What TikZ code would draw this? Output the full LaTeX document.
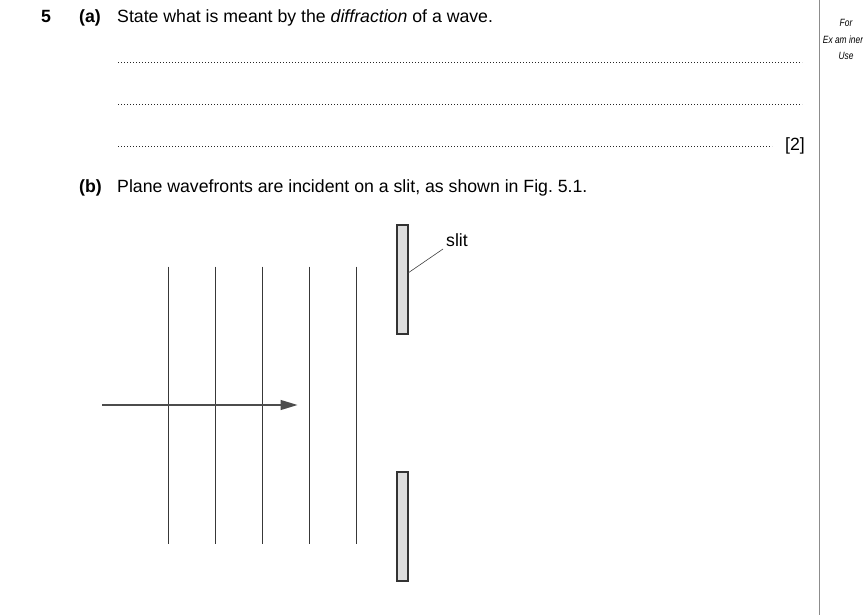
\documentclass[tikz,border=0pt]{standalone}
\usepackage{fontspec}
\setmainfont{Liberation Sans}
\usetikzlibrary{arrows.meta}
\begin{document}
\begin{tikzpicture}[x=1pt,y=-1pt,
  txt/.style={inner sep=0pt,anchor=base west,font=\fontsize{17.7}{20}\selectfont},
  btxt/.style={inner sep=0pt,anchor=base west,font=\fontsize{17.7}{20}\selectfont\bfseries},
  dots/.style={line width=1.1pt,dash pattern=on 1.1pt off 1.9pt,black!85},
  wave/.style={line width=1.6pt,black!78},
  barrier/.style={draw=black!80,line width=1.1pt,fill=black!13,minimum width=11pt,minimum height=109pt,inner sep=0pt,outer sep=0pt},
  exam/.style={inner sep=0pt,font=\fontsize{10.5}{11}\selectfont\itshape}]
\useasboundingbox (0,0) rectangle (863,615);
% header
\node[btxt] (q5) at (41,23) {5};
\node[btxt] (qa) at (79,23) {(a)};
\node[txt] (ta) at (117,23) {State what is meant by the \textit{diffraction} of a wave.};
\coordinate (d1a) at (118,62.5); \coordinate (d1b) at (802,62.5);
\coordinate (d2a) at (118,104.5); \coordinate (d2b) at (802,104.5);
\coordinate (d3a) at (118,146.5); \coordinate (d3b) at (772,146.5);
\draw[dots] (d1a) -- (d1b);
\draw[dots] (d2a) -- (d2b);
\draw[dots] (d3a) -- (d3b);
\node[txt] (m2) at (785,151) {[2]};
% examiner column
\coordinate (ea) at (819,0); \coordinate (eb) at (819,615);
\draw[black!45,line width=0.8pt] (ea) -- (eb);
\node[exam] (e1) at (846,23) {\scalebox{0.8}[1]{For}};
\node[exam] (e2) at (843,40) {\scalebox{0.8}[1]{Ex am iner}};
\node[exam] (e3) at (846,56) {\scalebox{0.8}[1]{Use}};
% part b
\node[btxt] (qb) at (79,193) {(b)};
\node[txt] (tb) at (117,193) {Plane wavefronts are incident on a slit, as shown in Fig.\ 5.1.};
% wavefronts
\foreach \i/\x in {1/168.5,2/215.5,3/262.5,4/309.5,5/356.5}{
  \coordinate (w\i t) at (\x,266.5);
  \coordinate (w\i b) at (\x,544);
  \draw[wave] (w\i t) -- (w\i b);
}
% arrow
\coordinate (ar1) at (102,405); \coordinate (ar2) at (297.5,405);
\draw[line width=1.3pt,black!70,-{Triangle[length=17pt,width=10pt]}] (ar1) -- (ar2);
% barriers
\node[barrier] (up) at (402.5,279.5) {};
\node[barrier] (low) at (402.5,526.5) {};
\coordinate (sl) at (408,273);
\node[txt] (slit) at (446,247) {slit};
\coordinate (slc) at (443,249);
\draw[black!75,line width=0.6pt] (sl) -- (slc);
\end{tikzpicture}
\end{document}
